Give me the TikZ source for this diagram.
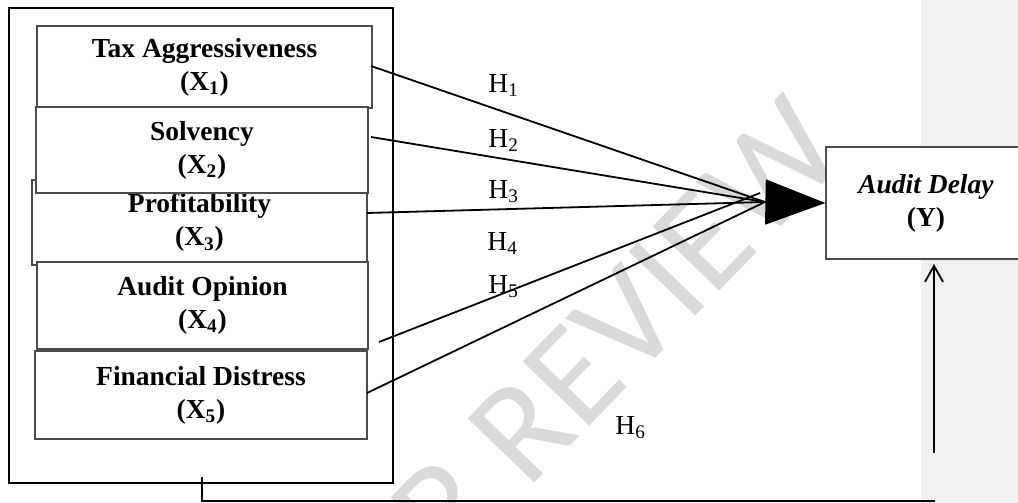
\documentclass[tikz,border=0pt]{standalone}
\usepackage{fontspec}
\setmainfont{Liberation Serif}
\newfontfamily\wmfont{Carlito}
\usetikzlibrary{arrows.meta}
\begin{document}
\begin{tikzpicture}[x=0.5pt,y=-0.5pt,
  font=\fontsize{13.75}{16.5}\selectfont,
  varbox/.style={draw=black!70, line width=0.6pt, fill=white, align=center, inner sep=0pt,
    font=\fontsize{13.75}{16.5}\selectfont\bfseries},
  link/.style={line width=0.9pt},
  hlab/.style={anchor=base west, inner sep=0pt},
]
\useasboundingbox (0,0) rectangle (1018,503);
\clip (0,0) rectangle (1018,503);
% grey margin band
\fill[black!6] (921,0) rectangle (1018,503);
% watermark
\node[rotate=46, text=black!15, inner sep=0pt, font=\wmfont\fontsize{72}{72}\selectfont] (wm) at (543,408) {PEER REVIEW};
% outer frame
\node[draw, line width=1pt, minimum width=192pt, minimum height=237.5pt, inner sep=0pt] (outer) at (201,245.5) {};
% variable boxes
\node[varbox, minimum width=167.5pt, minimum height=41pt] (x1) at (204.5,67) {Tax Aggressiveness\\(X\textsubscript{1})};
\node[varbox, minimum width=167.5pt, minimum height=42.5pt] (x3) at (199.5,222.5) {Profitability\\(X\textsubscript{3})};
\node[varbox, minimum width=166pt, minimum height=43pt] (x2) at (202,150) {Solvency\\(X\textsubscript{2})};
\node[varbox, minimum width=165.5pt, minimum height=43.5pt] (x4) at (202.5,305.5) {Audit Opinion\\(X\textsubscript{4})};
\node[varbox, minimum width=166pt, minimum height=44pt] (x5) at (201,395) {Financial Distress\\(X\textsubscript{5})};
% dependent variable
\node[varbox, minimum width=100pt, minimum height=56pt] (y) at (926,203) {\textit{Audit Delay}\\(Y)};
% connector points
\coordinate (c) at (765,202);
\coordinate (s1) at (371,66);
\coordinate (s2) at (371,137);
\coordinate (s3) at (367,213);
\coordinate (s4) at (379,342);
\coordinate (e4) at (760,193);
\coordinate (s5) at (367,393);
\draw[link] (s1) -- (c);
\draw[link] (s2) -- (c);
\draw[link] (s3) -- (c);
\draw[link] (s4) -- (e4);
\draw[link] (s5) -- (c);
\draw[line width=0.9pt, -{Triangle[length=30pt,width=22.5pt]}] (c) -- (y.west);
% H6 path
\coordinate (b0) at (202,477);
\coordinate (b1) at (202,501);
\coordinate (b2) at (935,501);
\coordinate (b3) at (934,453);
\coordinate (ytip) at (934,264);
\draw[link] (b0) -- (b1) -- (b2);
\draw[link, -{Straight Barb[length=8pt,width=9pt]}] (b3) -- (ytip);
% hypothesis labels
\node[hlab] (h1) at (488,92) {H\textsubscript{1}};
\node[hlab] (h2) at (488,147) {H\textsubscript{2}};
\node[hlab] (h3) at (488,198) {H\textsubscript{3}};
\node[hlab] (h4) at (487,250) {H\textsubscript{4}};
\node[hlab] (h5) at (488,293) {H\textsubscript{5}};
\node[hlab] (h6) at (615,434) {H\textsubscript{6}};
\end{tikzpicture}
\end{document}
